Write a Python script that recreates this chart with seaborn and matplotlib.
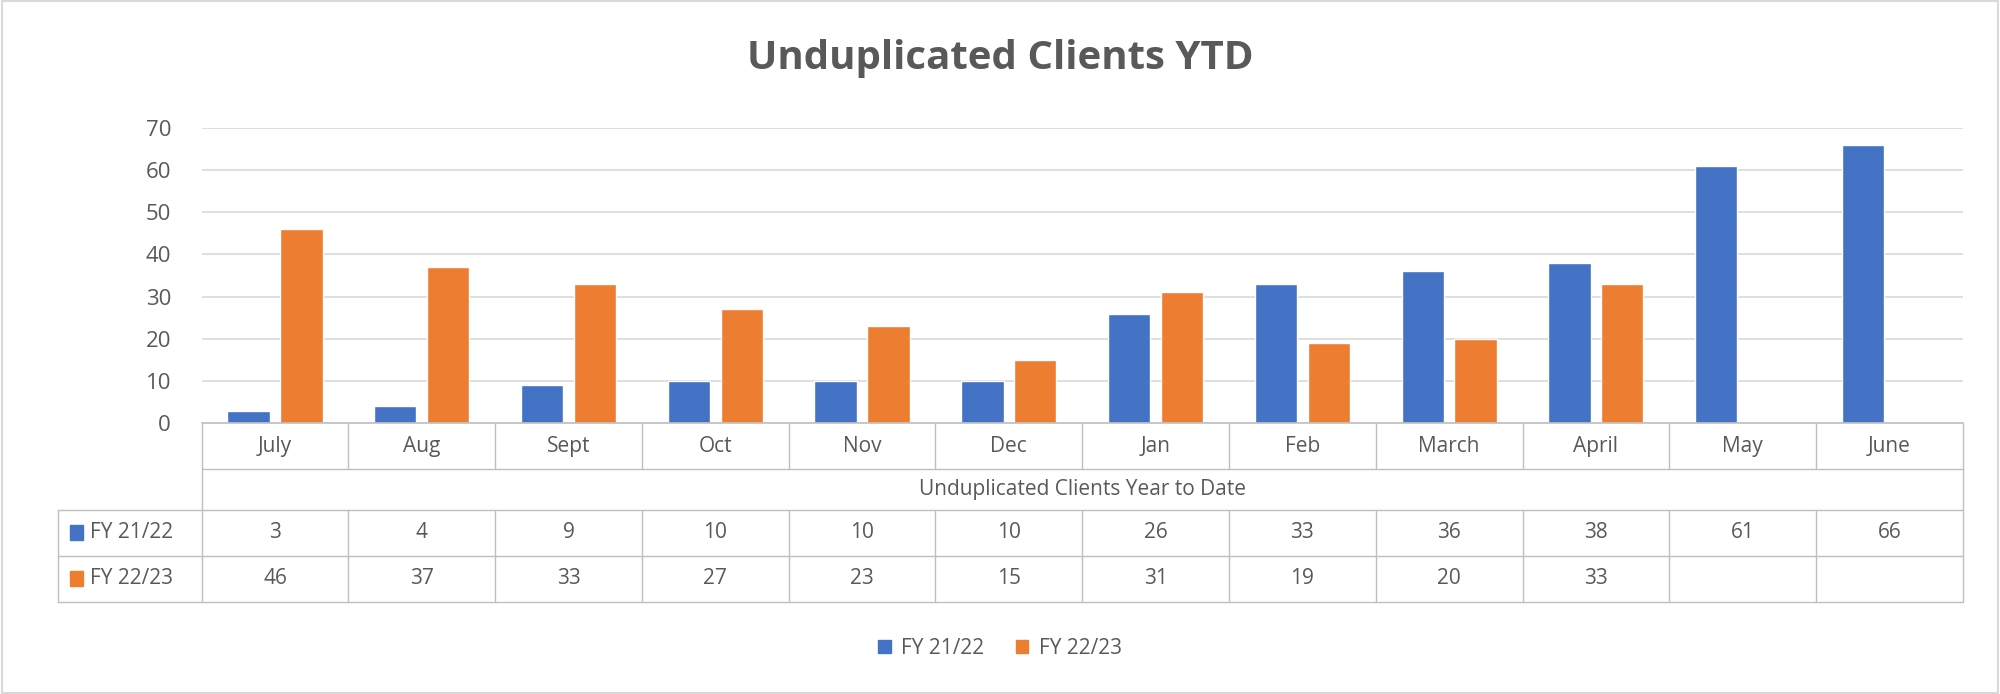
import matplotlib
matplotlib.use("Agg")
import matplotlib.pyplot as plt
import seaborn as sns
import pandas as pd
from matplotlib.patches import Rectangle

months = ["July","Aug","Sept","Oct","Nov","Dec","Jan","Feb","March","April","May","June"]
fy2122 = [3,4,9,10,10,10,26,33,36,38,61,66]
fy2223 = [46,37,33,27,23,15,31,19,20,33,None,None]
series = ["FY 21/22","FY 22/23"]
colors = ["#4472C4","#ED7D31"]

rows = []
for m,a,b in zip(months,fy2122,fy2223):
    rows.append((m,series[0],a))
    rows.append((m,series[1],b))
df = pd.DataFrame(rows,columns=["month","series","value"])

sns.set_theme(style="white")
plt.rcParams['font.family'] = ['Open Sans','DejaVu Sans']
txt = "#595959"

fig = plt.figure(figsize=(20,6.94),dpi=100)
ax = fig.add_axes([0.1008,0.39,0.8806,0.426])
sns.barplot(data=df,x="month",y="value",hue="series",palette=colors,
            width=0.72,gap=0.2,ax=ax,legend=False,saturation=1)
ax.set_xlim(-0.5,11.5)
ax.set_ylim(0,70)
ax.set_yticks(range(0,71,10))
ax.yaxis.grid(True,color="#D9D9D9",lw=1.2)
ax.set_axisbelow(True)
for s in ax.spines.values(): s.set_visible(False)
ax.set_xlabel(""); ax.set_ylabel("")
ax.set_xticks([])
ax.tick_params(axis='y',labelsize=16,colors=txt,length=0,pad=22)

tr = ax.get_xaxis_transform()
lc = "#BFBFBF"
y0,y1,y2,y3,y4 = 0,-0.155,-0.293,-0.448,-0.603
xl = -1.48
ax.plot([-0.5,11.5],[y0,y0],transform=tr,color=lc,lw=1.2,clip_on=False)
ax.plot([-0.5,11.5],[y1,y1],transform=tr,color=lc,lw=1,clip_on=False)
for y in [y2,y3,y4]:
    ax.plot([xl,11.5],[y,y],transform=tr,color=lc,lw=1,clip_on=False)
for i in range(13):
    x = i-0.5
    ax.plot([x,x],[y0,y1],transform=tr,color=lc,lw=1,clip_on=False)
    ax.plot([x,x],[y2,y4],transform=tr,color=lc,lw=1,clip_on=False)
ax.plot([-0.5,-0.5],[y1,y2],transform=tr,color=lc,lw=1,clip_on=False)
ax.plot([11.5,11.5],[y1,y2],transform=tr,color=lc,lw=1,clip_on=False)
ax.plot([xl,xl],[y2,y4],transform=tr,color=lc,lw=1,clip_on=False)

for i,m in enumerate(months):
    ax.text(i,(y0+y1)/2,m,transform=tr,ha="center",va="center",fontsize=15,color=txt)
    ax.text(i,(y2+y3)/2,str(fy2122[i]),transform=tr,ha="center",va="center",fontsize=15,color=txt)
    if fy2223[i] is not None:
        ax.text(i,(y3+y4)/2,str(fy2223[i]),transform=tr,ha="center",va="center",fontsize=15,color=txt)
ax.text(5.5,(y1+y2)/2,"Unduplicated Clients Year to Date",transform=tr,ha="center",va="center",fontsize=15,color=txt)
for yy,(s,c) in zip([(y2+y3)/2,(y3+y4)/2],zip(series,colors)):
    ax.add_patch(Rectangle((xl+0.08,yy-0.025),0.09,0.05,transform=tr,color=c,clip_on=False))
    ax.text(xl+0.22,yy,s,transform=tr,ha="left",va="center",fontsize=15,color=txt)

fig.text(0.5,0.915,"Unduplicated Clients YTD",ha="center",va="center",fontsize=29,fontweight="bold",color=txt)
handles=[Rectangle((0,0),1,1,color=c) for c in colors]
fig.legend(handles,series,loc="center",bbox_to_anchor=(0.5,0.066),ncol=2,frameon=False,
           fontsize=15,labelcolor=txt,handlelength=0.6,handleheight=0.6,columnspacing=1.5,handletextpad=0.5)
fig.add_artist(Rectangle((0.001,0.002),0.998,0.996,transform=fig.transFigure,fill=False,ec="#D9D9D9",lw=1.5))
fig.savefig("out.png",dpi=100)
